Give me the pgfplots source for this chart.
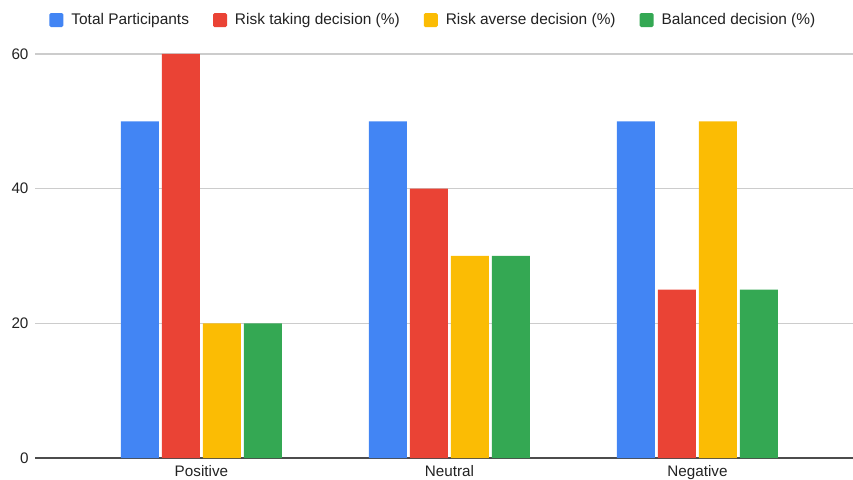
\documentclass[border=0pt]{standalone}
\usepackage{fontspec}
\setmainfont{Liberation Sans}
\usepackage{pgfplots}
\pgfplotsset{compat=1.18}
\definecolor{gblue}{HTML}{4285F4}
\definecolor{gred}{HTML}{EA4335}
\definecolor{gyellow}{HTML}{FBBC04}
\definecolor{ggreen}{HTML}{34A853}
\definecolor{txt}{HTML}{222222}
\begin{document}
\begin{tikzpicture}
\path[use as bounding box] (-35bp,-22bp) rectangle (818bp,458bp);
\begin{axis}[
  at={(0,0)}, anchor=south west,
  scale only axis, width=818bp, height=404bp,
  xmin=-0.671, xmax=2.627, ymin=0, ymax=60,
  ybar, bar width=38bp,
  xtick={0,1,2}, xticklabels={Positive,Neutral,Negative},
  ytick={20,40,60},
  extra y ticks={0},
  extra y tick style={grid style={draw=black!70, line width=1.6bp}},
  ymajorgrids, grid style={draw=black!20, line width=1.2bp},
  axis line style={draw=none},
  major tick length=0pt,
  tick label style={font=\fontsize{15.3}{17}\selectfont, text=txt},
  /pgf/number format/assume math mode=true,
  yticklabel style={xshift=-3bp},
  xticklabel style={yshift=-4bp},
  legend style={draw=none, at={(0.487,1.084)}, anchor=center,
    legend columns=-1, font=\fontsize{15.5}{17}\selectfont, text=txt,
    /tikz/every odd column/.append style={column sep=6bp},
    /tikz/every even column/.append style={column sep=22bp}},
  legend image code/.code={\fill[#1, rounded corners=1.5bp] (0bp,-7bp) rectangle (14bp,7bp);},
  clip=false,
]
\addplot[fill=gblue, draw=none, bar shift=-61.5bp] coordinates {(0,50) (1,50) (2,50)};
\addplot[fill=gred, draw=none, bar shift=-20.5bp] coordinates {(0,60) (1,40) (2,25)};
\addplot[fill=gyellow, draw=none, bar shift=20.5bp] coordinates {(0,20) (1,30) (2,50)};
\addplot[fill=ggreen, draw=none, bar shift=61.5bp] coordinates {(0,20) (1,30) (2,25)};
\legend{Total Participants, Risk taking decision (\%), Risk averse decision (\%), Balanced decision (\%)}
\end{axis}
\end{tikzpicture}
\end{document}
